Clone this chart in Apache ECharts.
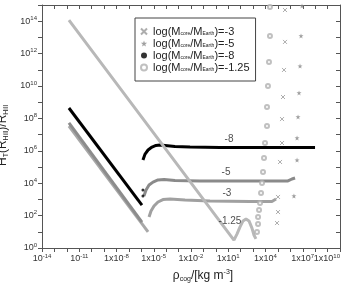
<!DOCTYPE html>
<html>
<head>
<meta charset="utf-8">
<script src="https://cdn.jsdelivr.net/npm/echarts@6/dist/echarts.min.js"></script>
<style>html,body{margin:0;padding:0;background:#fff}#c{width:347px;height:291px}</style>
</head>
<body>
<div id="c"></div>
<script>
// ---- data (x = rho_cog [kg m^-3], y = H_T(R_Hill)/R_Hill) ----
// log(Mcore/MEarth) = -8  (black)
const m8LineX  = [1.48e-12, 1.12e-6];
const m8LineY  = [4.37e8, 447];
const m8DotX   = [1.35e-6, 1.35e-6];
const m8DotY   = [1622, 3802];
const m8RiseX  = [1.35e-6, 2.0e-6, 3.47e-6, 7.24e-6, 1.51e-5, 3.16e-5, 8.13e-5, 5.13e-4, 8.32e-3, 2.19, 3631, 9.77e7];
const m8RiseY  = [2.69e5, 6.31e5, 1.12e6, 1.70e6, 2.14e6, 2.29e6, 2.14e6, 1.86e6, 1.70e6, 1.58e6, 1.58e6, 1.58e6];

// log(Mcore/MEarth) = -5  (stars)
const m5LineX  = [1.48e-12, 1.12e-6];
const m5LineY  = [5.25e7, 40];
const m5RiseX  = [1.62e-6, 2.40e-6, 4.17e-6, 8.71e-6, 2.19e-5, 6.76e-5, 5.13e-4, 0.0525, 89.1, 2.29e4, 6.46e5, 1.35e6, 2.40e6];
const m5RiseY  = [1622, 3802, 7762, 1.17e4, 1.58e4, 1.70e4, 1.48e4, 1.38e4, 1.38e4, 1.38e4, 1.38e4, 1.82e4, 2.09e4];
const m5PtsX   = [1.95e6, 3.47e6, 3.47e6, 4.17e6, 5.01e6, 6.03e6, 7.24e6, 8.71e6];
const m5PtsY   = [1622, 2.69e5, 6.17e6, 1.23e8, 3.72e9, 1.70e11, 1.23e13, 8.71e14];

// log(Mcore/MEarth) = -3  (crosses)
const m3LineX  = [1.48e-12, 3.47e-6];
const m3LineY  = [3.39e7, 9.77];
const m3RiseX  = [4.17e-6, 6.03e-6, 1.05e-5, 2.19e-5, 5.5e-5, 2.04e-4, 3.31e-3, 0.339, 562, 3.31e4, 7.08e4];
const m3RiseY  = [81.3, 191, 389, 692, 977, 1047, 912, 794, 741, 741, 1047];
const m3PtsX   = [1.02e5, 1.02e5, 8.51e4, 1.48e5, 2.14e5, 2.14e5, 2.57e5, 3.09e5, 3.72e5, 3.72e5];
const m3PtsY   = [1413, 166, 34.7, 2.04e5, 3.02e6, 9.12e7, 2.09e9, 9.77e10, 5.25e12, 4.9e14];

// log(Mcore/MEarth) = -1.25  (circles)
const m125LineX = [1.48e-12, 2.63e-5, 28.8, 50.1, 89.1, 155, 269, 468, 813, 1175, 1698];
const m125LineY = [1.175e14, 4.57e6, 3.09, 7.24, 20.0, 46.8, 61.7, 46.8, 17.0, 6.31, 3.63];
const m125PtsX  = [2065, 2512, 2512, 3020, 3631, 4365, 5248, 6310, 7586, 9120, 1.32e4, 1.32e4, 1.58e4, 1.91e4, 2.29e4, 2.29e4];
const m125PtsY  = [9.77, 30.2, 81.3, 224, 603, 2512, 1.02e4, 4.9e4, 3.63e5, 3.02e6, 3.39e7, 5.0e8, 1.0e10, 3.02e11, 1.23e13, 7.59e14];

// curve labels
const curveLabels = ['-8', '-5', '-3', '-1.25'];
const curveLabelX = [11.5, 6.6, 7.9, 13.8];
const curveLabelY = [5.4e6, 4.9e4, 2512, 46.8];

const legendNames = ['m3', 'm5', 'm8', 'm125'];
const legendTexts = ['-3', '-5', '-8', '-1.25'];

const xMin = 1e-14, xMax = 1e10, yMin = 1, yMax = 1e15;
const xLabelDecades = 3, yLabelDecades = 2;

// ---- build ----
const zip = (a, b) => a.map((v, i) => [v, b[i]]);
const crossPath = 'path://M0,0L10,10M10,0L0,10';
const starPath = 'path://M5,0L6.2,3.5L10,3.6L7,5.9L8.1,9.5L5,7.4L1.9,9.5L3,5.9L0,3.6L3.8,3.5Z';
const supStyle = {fontSize: 6, color: '#333', padding: [0, 0, 6, 0], fontFamily: 'Liberation Sans'};
const expOf = v => Math.round(Math.log10(v));
const xMinExp = expOf(xMin), yMinExp = expOf(yMin);

const chart = echarts.init(document.getElementById('c'));
const line = (x, y, color, w, z) => ({
  type: 'line', data: zip(x, y), showSymbol: false, symbol: 'none',
  lineStyle: {color: color, width: w}, z: z, silent: true, animation: false
});
const labelSeries = {
  type: 'scatter', data: zip(curveLabelX, curveLabelY).map((p, i) => ({value: p, label: {formatter: curveLabels[i]}})),
  symbolSize: 0, label: {show: true, position: 'inside', fontSize: 10, color: '#222', fontFamily: 'Liberation Sans'},
  z: 10, animation: false, silent: true
};

chart.setOption({
  animation: false,
  grid: {left: 42, right: 7, top: 5, bottom: 43, containLabel: false, outerBoundsMode: 'none'},
  legend: {
    data: legendNames, orient: 'vertical', left: 135, top: 18,
    backgroundColor: '#fff', borderColor: '#444', borderWidth: 1,
    padding: [8, 6, 8, 5], itemGap: 1, itemWidth: 8, itemHeight: 6,
    formatter: n => 'log(M{s|core}/M{s|Earth})=' + legendTexts[legendNames.indexOf(n)],
    textStyle: {fontSize: 11, color: '#222', fontFamily: 'Liberation Sans',
      rich: {s: {fontSize: 5, padding: [5, 0, 0, 0], color: '#222'}}}
  },
  xAxis: [{
    type: 'log', logBase: 10, min: xMin, max: xMax, interval: 1, position: 'bottom',
    name: 'ρ{s|cog}/[kg m{p|-3}]', nameLocation: 'middle', nameGap: 21,
    nameTextStyle: {fontSize: 12, color: '#222', fontFamily: 'Liberation Sans', padding: [0, 0, 0, 24],
      rich: {s: {fontSize: 7, padding: [6, 0, 0, 0]}, p: {fontSize: 7, padding: [0, 0, 7, 0]}}},
    axisLine: {lineStyle: {color: '#555'}},
    axisTick: {inside: false, length: 4, lineStyle: {color: '#555'}},
    axisLabel: {
      fontSize: 9, color: '#333', margin: 5, fontFamily: 'Liberation Sans', hideOverlap: false,
      alignMaxLabel: 'right',
      formatter: v => { const e = expOf(v); if ((e - xMinExp) % xLabelDecades !== 0) return ''; return (e <= -11 ? '10' : '1x10') + '{p|' + e + '}'; },
      rich: {p: supStyle}
    },
    splitLine: {show: false}, minorTick: {show: false}
  }, {
    type: 'log', logBase: 10, min: xMin, max: xMax, interval: 1, position: 'top',
    axisLine: {lineStyle: {color: '#555'}},
    axisTick: {inside: true, length: 4, lineStyle: {color: '#555'}},
    axisLabel: {show: false}, splitLine: {show: false}
  }],
  yAxis: [{
    type: 'log', logBase: 10, min: yMin, max: yMax, interval: 1, position: 'left',
    name: 'H{s|T}(R{s|Hill})/R{s|Hill}', nameLocation: 'middle', nameGap: 25,
    nameTextStyle: {fontSize: 12, color: '#222', fontFamily: 'Liberation Sans', padding: [0, 18, 0, 0],
      rich: {s: {fontSize: 7, padding: [6, 0, 0, 0]}}},
    axisLine: {lineStyle: {color: '#555'}},
    axisTick: {inside: false, length: 4, lineStyle: {color: '#555'}},
    axisLabel: {
      fontSize: 9, color: '#333', margin: 5, fontFamily: 'Liberation Sans',
      formatter: v => { const e = expOf(v); if ((e - yMinExp) % yLabelDecades !== 0) return ''; return '10{p|' + e + '}'; },
      rich: {p: supStyle}
    },
    splitLine: {show: false}, minorTick: {show: false}
  }, {
    type: 'log', logBase: 10, min: yMin, max: yMax, interval: 1, position: 'right',
    axisLine: {lineStyle: {color: '#555'}},
    axisTick: {inside: true, length: 4, lineStyle: {color: '#555'}},
    axisLabel: {show: false}, splitLine: {show: false}
  }],
  series: [
    line(m3LineX, m3LineY, '#a8a8a8', 3, 2),
    line(m3RiseX, m3RiseY, '#a0a0a0', 3, 2),
    line(m5LineX, m5LineY, '#8c8c8c', 3, 3),
    line(m5RiseX, m5RiseY, '#8a8a8a', 3, 3),
    line(m8LineX, m8LineY, '#000', 3, 4),
    line(m8RiseX, m8RiseY, '#000', 3, 4),
    line(m125LineX, m125LineY, '#b8b8b8', 3, 5),
    {name: 'm3', type: 'scatter', data: zip(m3PtsX, m3PtsY), symbol: crossPath, symbolSize: 4,
      itemStyle: {color: 'rgba(0,0,0,0)', borderColor: '#999', borderWidth: 1}, z: 6},
    {name: 'm5', type: 'scatter', data: zip(m5PtsX, m5PtsY), symbol: starPath, symbolSize: 5,
      itemStyle: {color: '#888'}, z: 6},
    {name: 'm8', type: 'scatter', data: zip(m8DotX, m8DotY), symbol: 'circle', symbolSize: 3,
      itemStyle: {color: '#000'}, z: 6},
    {name: 'm125', type: 'scatter', data: zip(m125PtsX, m125PtsY), symbol: 'emptyCircle', symbolSize: 4,
      itemStyle: {color: '#b0b0b0', borderWidth: 1}, z: 6},
    labelSeries
  ]
});
</script>
</body>
</html>
